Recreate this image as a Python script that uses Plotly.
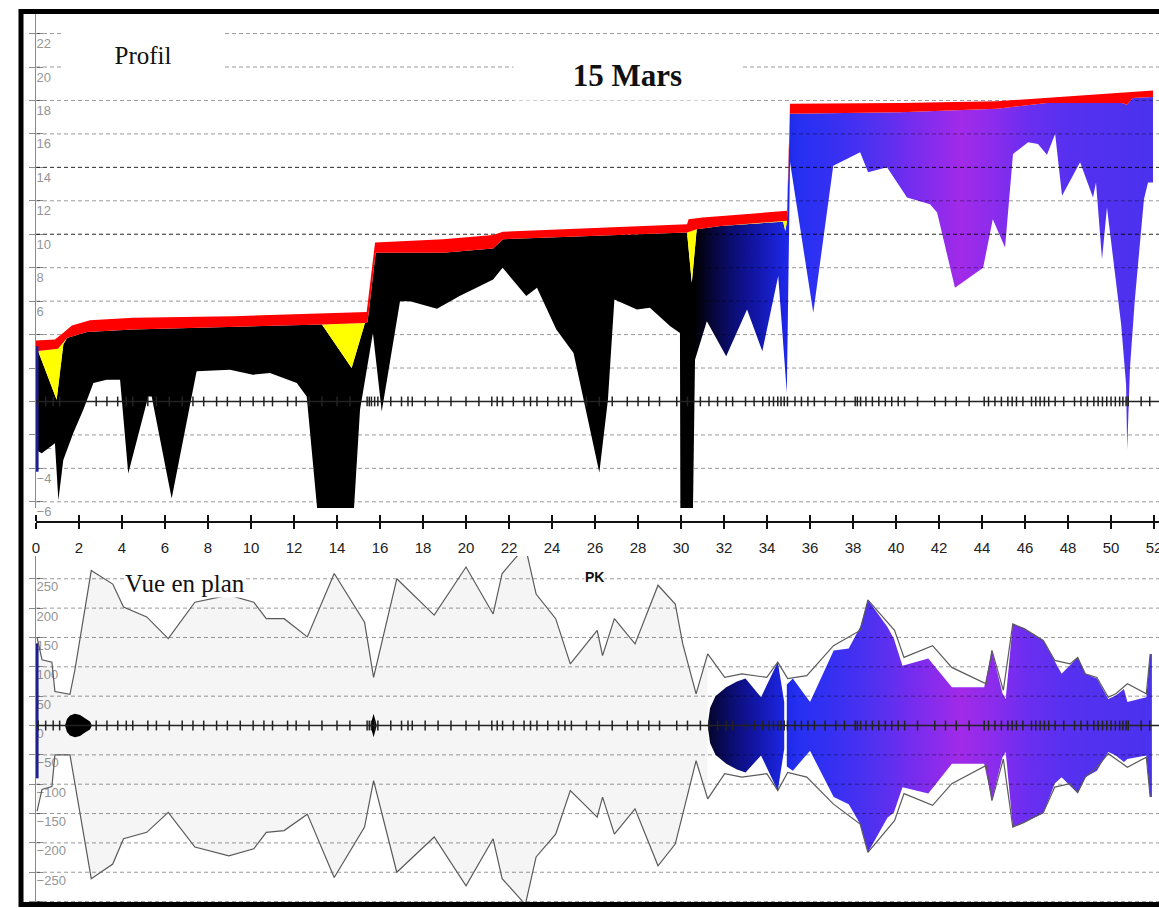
import plotly.graph_objects as go

W, H = 1159, 908
X_MAX = 52.23

# ---------------- Profil en long (cotes en m) ----------------
pk_ligne_haute = [0.0, 0.88, 1.26, 1.67, 2.51, 4.51, 9.16, 13.3, 15.38, 15.77, 18.93, 21.26,
                  21.72, 30.28, 30.35, 31.0, 32.0, 34.93, 35.07, 40.19, 44.7, 47.0, 49.35, 51.95]
z_ligne_haute = [3.65, 3.7, 4.1, 4.55, 4.85, 5.0, 5.1, 5.25, 5.35, 9.5, 9.7, 9.95,
                 10.15, 10.6, 10.9, 11.0, 11.1, 11.4, 17.8, 17.85, 17.95, 18.15, 18.35, 18.6]

pk_ligne_eau = [0.0, 1.02, 1.44, 2.37, 4.51, 9.16, 13.3, 15.3, 15.42, 15.8, 18.93, 21.26, 21.72,
                30.28, 30.73, 31.85, 34.93, 35.07, 40.19, 44.7, 47.02, 50.5, 50.74, 51.0, 51.95]
z_ligne_eau = [3.0, 3.15, 3.8, 4.15, 4.3, 4.45, 4.6, 4.7, 4.75, 8.9, 8.9, 9.15, 9.7,
               10.1, 10.3, 10.5, 10.8, 17.2, 17.3, 17.5, 17.85, 17.85, 17.75, 18.15, 18.2]

pk_ligne_basse = [0.0, 0.1, 0.96, 1.27, 1.44, 2.37, 4.51, 9.16, 13.3, 14.68, 15.3, 15.42, 15.8,
                  18.93, 21.26, 21.72, 30.28, 30.5, 30.73, 31.85, 34.75, 34.85, 34.93, 35.07,
                  40.19, 44.7, 47.02, 50.5, 50.74, 51.0, 51.95]
z_ligne_basse = [3.0, 3.0, 0.1, 3.4, 3.8, 4.15, 4.3, 4.45, 4.6, 2.0, 4.7, 4.75, 8.9,
                 8.9, 9.15, 9.7, 10.1, 7.1, 10.3, 10.5, 10.75, 10.2, 10.8, 17.2,
                 17.3, 17.5, 17.85, 17.85, 17.75, 18.15, 18.2]

pk_fond = [0.0, 0.27, 0.88, 1.04, 1.27, 1.73, 2.2, 2.67, 3.29, 3.91,
           4.29, 5.22, 5.38, 6.31, 7.47, 9.02, 10.09, 10.88, 12.13, 12.59,
           13.12, 14.76, 15.07, 15.67, 16.08, 16.93, 17.4, 18.65, 19.7, 20.65,
           21.26, 21.7, 22.8, 23.3, 24.2, 25.0, 26.2, 26.6, 26.9, 27.95,
           28.55, 29.5, 29.95, 29.97, 30.55, 30.65, 31.2, 32.1, 33.07, 33.78,
           34.52, 34.92, 35.07, 36.15, 37.08, 38.33, 38.7, 39.58, 40.51, 41.58,
           41.91, 42.74, 44.05, 44.5, 45.07, 45.44, 46.14, 46.6, 47.02, 47.4,
           47.72, 48.56, 49.16, 49.3, 49.58, 49.81, 50.47, 50.7, 50.75, 50.88,
           51.1, 51.53, 51.72, 51.95]
z_fond = [-2.9, -3.1, -2.5, -5.9, -3.5, -1.9, -0.5, 1.1, 1.3, 1.3,
          -4.3, 0.3, 0.3, -5.8, 1.8, 1.9, 1.6, 1.7, 1.1, 0.3,
          -7.0, -7.0, -0.5, 4.1, -0.6, 6.0, 6.0, 5.55, 6.3, 6.9,
          7.3, 8.0, 6.3, 6.8, 4.3, 2.9, -4.25, 0.1, 6.1, 5.5,
          5.6, 4.5, 4.1, -7.0, -7.0, 2.5, 4.8, 2.7, 5.5, 3.0,
          7.5, 0.5, 14.3, 5.3, 14.1, 14.9, 13.7, 14.0, 12.2, 11.8,
          11.3, 6.8, 8.0, 10.9, 9.2, 14.8, 15.5, 15.4, 14.75, 16.0,
          12.3, 14.3, 12.2, 13.1, 8.5, 11.6, 4.6, 1.0, -2.9, 2.0,
          6.0, 12.1, 13.1, 13.1]

# ---------------- Vue en plan (largeurs en m) ----------------
pk_lit = [0.05, 0.28, 0.74, 0.88, 1.58, 1.81, 2.57, 3.57, 4.07, 5.15, 6.15, 7.39, 8.97, 10.13,
          10.71, 11.54, 12.62, 13.87, 15.28, 15.7, 16.78, 18.52, 20.0, 21.26, 21.68, 22.76,
          23.26, 24.17, 24.85, 26.1, 26.35, 26.9, 27.86, 28.93, 29.73, 30.08, 30.7, 31.24,
          32.03, 32.83, 33.99, 34.5, 34.96, 35.85, 37.09, 38.33, 38.69, 39.93, 40.37, 41.7,
          42.59, 44.19, 44.46, 44.99, 45.43, 45.96, 46.85, 47.38, 48.09, 48.45, 48.8, 49.34,
          49.87, 50.22, 50.76, 51.64, 51.82]
rive_gauche = [150, 112, 108, 58, 53, 95, 264, 241, 202, 185, 148, 210, 222, 210,
               182, 182, 151, 259, 176, 82, 250, 188, 270, 190, 259, 305,
               224, 182, 105, 162, 119, 182, 139, 239, 207, 139, 54, 122,
               82, 88, 82, 108, 80, 85, 136, 162, 214, 162, 116, 136,
               99, 71, 128, 60, 173, 165, 145, 111, 105, 116, 88, 82,
               48, 54, 71, 54, 122]
rive_droite = [-146, -109, -104, -50, -50, -98, -261, -236, -193, -182, -148, -207, -222, -210,
               -182, -179, -151, -259, -173, -94, -250, -190, -273, -193, -261, -305,
               -224, -185, -111, -156, -122, -185, -142, -239, -202, -151, -60, -125,
               -82, -88, -82, -111, -80, -88, -134, -168, -216, -162, -116, -136,
               -99, -68, -128, -57, -173, -165, -148, -105, -99, -114, -88, -71,
               -48, -57, -71, -54, -122]

# miroir d'eau, tronçons séparés par None
pk_miroir = [1.35, 1.44, 1.58, 1.81, 2.05, 2.28, 2.51, 2.6, None,
             15.55, 15.7, 15.85, None,
             31.24, 31.35, 31.6, 32.1, 32.6, 33.0, 33.72, 34.5, 34.8, None,
             34.92, 35.2, 36.0, 36.5, 37.1, 37.8, 38.33, 38.7, 39.6, 39.9, 40.3, 41.5, 42.6,
             44.1, 44.46, 44.95, 45.1, 45.43, 45.96, 46.85, 47.38, 47.7, 48.45, 48.8, 49.34,
             49.87, 50.22, 50.6, 50.76, 51.64, 51.82, 51.9]
miroir_gauche = [0, 11, 17, 20, 18, 12, 7, 0, None,
                 0, 20, 0, None,
                 0, 30, 50, 65, 75, 80, 48, 108, 40, None,
                 70, 80, 40, 80, 128, 131, 168, 214, 168, 148, 102, 114, 65,
                 65, 128, 55, 45, 173, 165, 145, 111, 88, 116, 88, 80,
                 45, 51, 62, 40, 48, 122, 122]
miroir_droite = [0, -11, -17, -20, -18, -12, -7, 0, None,
                 0, -20, 0, None,
                 0, -30, -50, -65, -75, -80, -51, -111, -40, None,
                 -70, -77, -43, -80, -122, -134, -168, -216, -157, -148, -105, -116, -65,
                 -65, -128, -54, -45, -173, -165, -150, -99, -88, -116, -88, -77,
                 -45, -51, -62, -57, -51, -122, -122]

# limite amont
pk_amont = [0.05, 0.05]
z_amont = [3.3, -4.2]
largeur_amont = [140, -90]

# positions des profils en travers
pk_profils = [0.1, 0.45, 0.8, 1.1, 2.8, 3.3, 3.8, 4.2, 4.5, 5.2, 5.6, 6.2, 6.8, 7.3, 7.8, 8.4,
              8.9, 9.5, 10.1, 10.6, 11.0, 11.7, 12.1, 12.7, 13.3, 14.0, 14.6, 15.4, 15.5, 15.6,
              15.75, 15.9, 16.5, 17.0, 17.3, 17.5, 18.1, 18.7, 19.3, 20.0, 20.6, 21.2, 21.45,
              21.7, 22.2, 22.7, 23.0, 23.3, 23.8, 24.3, 24.6, 24.9, 25.6, 26.2, 26.8, 27.5,
              28.0, 28.5, 29.0, 29.8, 30.3, 30.9, 31.3, 31.7, 32.1, 32.4, 33.0, 33.4, 33.8,
              34.1, 34.3, 34.5, 34.65, 34.8, 34.95, 35.3, 35.6, 35.9, 36.2, 36.7, 37.2, 37.6,
              38.1, 38.2, 38.35, 38.6, 38.9, 39.2, 39.5, 39.8, 40.1, 40.4, 41.0, 41.8, 42.3,
              42.8, 43.4, 44.1, 44.3, 44.6, 44.9, 45.2, 45.4, 45.6, 45.9, 46.3, 46.5, 46.7,
              46.9, 47.1, 47.4, 47.8, 48.3, 48.6, 48.9, 49.2, 49.4, 49.6, 49.8, 50.0, 50.2,
              50.4, 50.55, 50.7, 50.8, 51.4, 51.8]

# teinte de l'eau le long du PK
degrade_pk = [0.0, 30.6, 31.3, 32.5, 33.5, 34.8, 35.5, 37.0, 39.0, 41.0, 43.0, 44.5, 46.0, 48.0, 52.0]
degrade_couleurs = ['#000000', '#000000', '#05052e', '#0c0e78', '#1216a8', '#1c26e4', '#2630f2',
                    '#3530f2', '#5230f0', '#7a2cee', '#a22ae8', '#8c2cec', '#6c2ef0', '#5630f0',
                    '#4a32ee']

pk_graduations = list(range(0, 53, 2))
cotes_graduations = list(range(-6, 23, 2))
cotes_fortes = [10, 14]
largeurs_graduations = list(range(-300, 301, 50))


def polygone(pk_a, z_a, pk_b, z_b):
    return list(pk_a) + list(pk_b)[::-1], list(z_a) + list(z_b)[::-1]


def troncons(pk, haut, bas):
    xs, ys = [], []
    seg = []
    for p, h, b in list(zip(pk, haut, bas)) + [(None, None, None)]:
        if p is None:
            if seg:
                sx = [s[0] for s in seg]
                xs += sx + sx[::-1] + [None]
                ys += [s[1] for s in seg] + [s[2] for s in seg][::-1] + [None]
            seg = []
        else:
            seg.append((p, h, b))
    return xs, ys


degrade = dict(type='horizontal', start=0, stop=52,
               colorscale=[[p / 52.0, c] for p, c in zip(degrade_pk, degrade_couleurs)])

fig = go.Figure()

# ---- profil en long ----
x, y = polygone(pk_ligne_basse, z_ligne_basse, pk_fond, z_fond)
fig.add_trace(go.Scatter(x=x, y=y, fill='toself', mode='lines', line=dict(width=0),
                         fillgradient=degrade, xaxis='x', yaxis='y', hoverinfo='skip'))

for v in cotes_graduations:
    if v == 0:
        continue
    col = 'rgba(0,0,0,0.85)' if v in cotes_fortes else 'rgba(0,0,0,0.4)'
    fig.add_trace(go.Scatter(x=[0, X_MAX], y=[v, v], mode='lines',
                             line=dict(color=col, width=1, dash='4px,3px'),
                             xaxis='x', yaxis='y', hoverinfo='skip'))

x, y = polygone(pk_ligne_eau, z_ligne_eau, pk_ligne_basse, z_ligne_basse)
fig.add_trace(go.Scatter(x=x, y=y, fill='toself', mode='lines', line=dict(width=0),
                         fillcolor='#ffff00', xaxis='x', yaxis='y', hoverinfo='skip'))
x, y = polygone(pk_ligne_haute, z_ligne_haute, pk_ligne_eau, z_ligne_eau)
fig.add_trace(go.Scatter(x=x, y=y, fill='toself', mode='lines', line=dict(width=0),
                         fillcolor='#ff0000', xaxis='x', yaxis='y', hoverinfo='skip'))
fig.add_trace(go.Scatter(x=pk_amont, y=z_amont, mode='lines', line=dict(color='#1e1e8c', width=3),
                         xaxis='x', yaxis='y', hoverinfo='skip'))
fig.add_trace(go.Scatter(x=[0, X_MAX], y=[0, 0], mode='lines', line=dict(color='#222', width=1.5),
                         xaxis='x', yaxis='y', hoverinfo='skip'))
fig.add_trace(go.Scatter(x=pk_profils, y=[0] * len(pk_profils), mode='markers',
                         marker=dict(symbol='line-ns', size=7, line=dict(width=1.5, color='#222')),
                         xaxis='x', yaxis='y', hoverinfo='skip'))

# ---- vue en plan ----
sel = [i for i, p in enumerate(pk_lit) if p <= 31.24]
x, y = polygone([pk_lit[i] for i in sel], [rive_gauche[i] for i in sel],
                [pk_lit[i] for i in sel], [rive_droite[i] for i in sel])
fig.add_trace(go.Scatter(x=x, y=y, fill='toself', mode='lines', line=dict(width=0),
                         fillcolor='rgba(0,0,0,0.04)', xaxis='x2', yaxis='y2', hoverinfo='skip'))
x, y = troncons(pk_miroir, miroir_gauche, miroir_droite)
fig.add_trace(go.Scatter(x=x, y=y, fill='toself', mode='lines', line=dict(width=0),
                         fillgradient=degrade, xaxis='x2', yaxis='y2', hoverinfo='skip'))
for v in largeurs_graduations:
    if v == 0:
        continue
    fig.add_trace(go.Scatter(x=[0, X_MAX], y=[v, v], mode='lines',
                             line=dict(color='rgba(0,0,0,0.4)', width=1, dash='4px,3px'),
                             xaxis='x2', yaxis='y2', hoverinfo='skip'))
fig.add_trace(go.Scatter(x=pk_amont, y=largeur_amont, mode='lines', line=dict(color='#1e1e8c', width=3),
                         xaxis='x2', yaxis='y2', hoverinfo='skip'))
for rive in (rive_gauche, rive_droite):
    fig.add_trace(go.Scatter(x=pk_lit, y=rive, mode='lines', line=dict(color='#5a5a5a', width=1.2),
                             xaxis='x2', yaxis='y2', hoverinfo='skip'))
fig.add_trace(go.Scatter(x=[0, X_MAX], y=[0, 0], mode='lines', line=dict(color='#222', width=1.5),
                         xaxis='x2', yaxis='y2', hoverinfo='skip'))
fig.add_trace(go.Scatter(x=pk_profils, y=[0] * len(pk_profils), mode='markers',
                         marker=dict(symbol='line-ns', size=7, line=dict(width=1.5, color='#222')),
                         xaxis='x2', yaxis='y2', hoverinfo='skip'))

# axes secondaires portant les graduations à droite de l'axe vertical
fig.add_trace(go.Scatter(x=[None], y=[None], xaxis='x', yaxis='y3', hoverinfo='skip'))
fig.add_trace(go.Scatter(x=[None], y=[None], xaxis='x2', yaxis='y4', hoverinfo='skip'))

X0 = 36 / W
pos_axe = 1 - 522 / H
plage_profil = [-6.37, 23.23]
plage_plan = [-302.4, 288.8]
gris = '#8a8a8a'
police_grad = dict(family='Liberation Sans, Arial, sans-serif', size=13, color='#959595')

fig.update_layout(
    width=W, height=H, margin=dict(l=0, r=0, t=0, b=0, pad=0, autoexpand=False),
    paper_bgcolor='white', plot_bgcolor='white', showlegend=False,
    xaxis=dict(domain=[X0, 1], range=[0, X_MAX], anchor='free', position=pos_axe, side='bottom',
               showline=True, linecolor='#111', linewidth=2, ticks='outside', ticklen=6,
               tickwidth=1.5, tickcolor='#111', tickvals=pk_graduations,
               tickfont=dict(family='Liberation Sans, Arial, sans-serif', size=15, color='#222'),
               ticklabelstandoff=6, ticklabeloverflow='allow', automargin=False,
               showgrid=False, zeroline=False),
    xaxis2=dict(domain=[X0, 1], range=[0, X_MAX], anchor='free', position=pos_axe, side='top',
                showline=True, linecolor='#111', linewidth=2, ticks='outside', ticklen=6,
                tickwidth=1.5, tickcolor='#111', tickvals=pk_graduations, showticklabels=False,
                automargin=False, showgrid=False, zeroline=False),
    yaxis=dict(domain=[1 - 508 / H, 1 - 13 / H], range=plage_profil, anchor='x',
               showline=True, linecolor=gris, linewidth=1, ticks='outside', ticklen=6,
               tickcolor=gris, tickvals=cotes_graduations, showticklabels=False, automargin=False,
               showgrid=False, zeroline=False, layer='below traces'),
    yaxis3=dict(overlaying='y', side='right', anchor='free', position=X0, range=plage_profil,
                ticks='outside', ticklen=6, tickcolor=gris, tickvals=cotes_graduations,
                tickfont=police_grad, ticklabelshift=10, ticklabelstandoff=-9, automargin=False,
                showline=False, showgrid=False, zeroline=False, layer='below traces'),
    yaxis2=dict(domain=[1 - 903 / H, 1 - 556 / H], range=plage_plan, anchor='x2',
                showline=True, linecolor=gris, linewidth=1, ticks='outside', ticklen=6,
                tickcolor=gris, tickvals=largeurs_graduations, showticklabels=False,
                automargin=False, showgrid=False, zeroline=False, layer='below traces'),
    yaxis4=dict(overlaying='y2', side='right', anchor='free', position=X0, range=plage_plan,
                ticks='outside', ticklen=6, tickcolor=gris, tickvals=largeurs_graduations,
                tickfont=police_grad, ticklabelshift=8, ticklabelstandoff=-9, automargin=False,
                showline=False, showgrid=False, zeroline=False, layer='below traces'),
)

serif = 'Liberation Serif, Times New Roman, serif'
centre = dict(xref='paper', yref='paper', xanchor='center', yanchor='middle', showarrow=False)
fig.add_annotation(text='Profil', x=143 / W, y=1 - 55 / H,
                   font=dict(family=serif, size=25, color='#111'),
                   bgcolor='white', width=160, height=44, **centre)
fig.add_annotation(text='<b>15 Mars</b>', x=627.5 / W, y=1 - 75 / H,
                   font=dict(family=serif, size=31, color='#111'),
                   bgcolor='white', width=225, height=48, **centre)
fig.add_annotation(text='Vue en plan', x=185 / W, y=1 - 583 / H,
                   font=dict(family=serif, size=25, color='#111'),
                   bgcolor='white', borderpad=0, **centre)
fig.add_annotation(text='<b>PK</b>', x=595 / W, y=1 - 577 / H,
                   font=dict(family='Liberation Sans, Arial, sans-serif', size=14, color='#111'),
                   bgcolor='white', borderpad=0, **centre)

# cadre
fig.add_shape(type='rect', xref='paper', yref='paper', x0=21 / W, x1=1.02,
              y0=1 - 904.5 / H, y1=1 - 11.5 / H, line=dict(color='black', width=5))

fig.write_html('out.html')
